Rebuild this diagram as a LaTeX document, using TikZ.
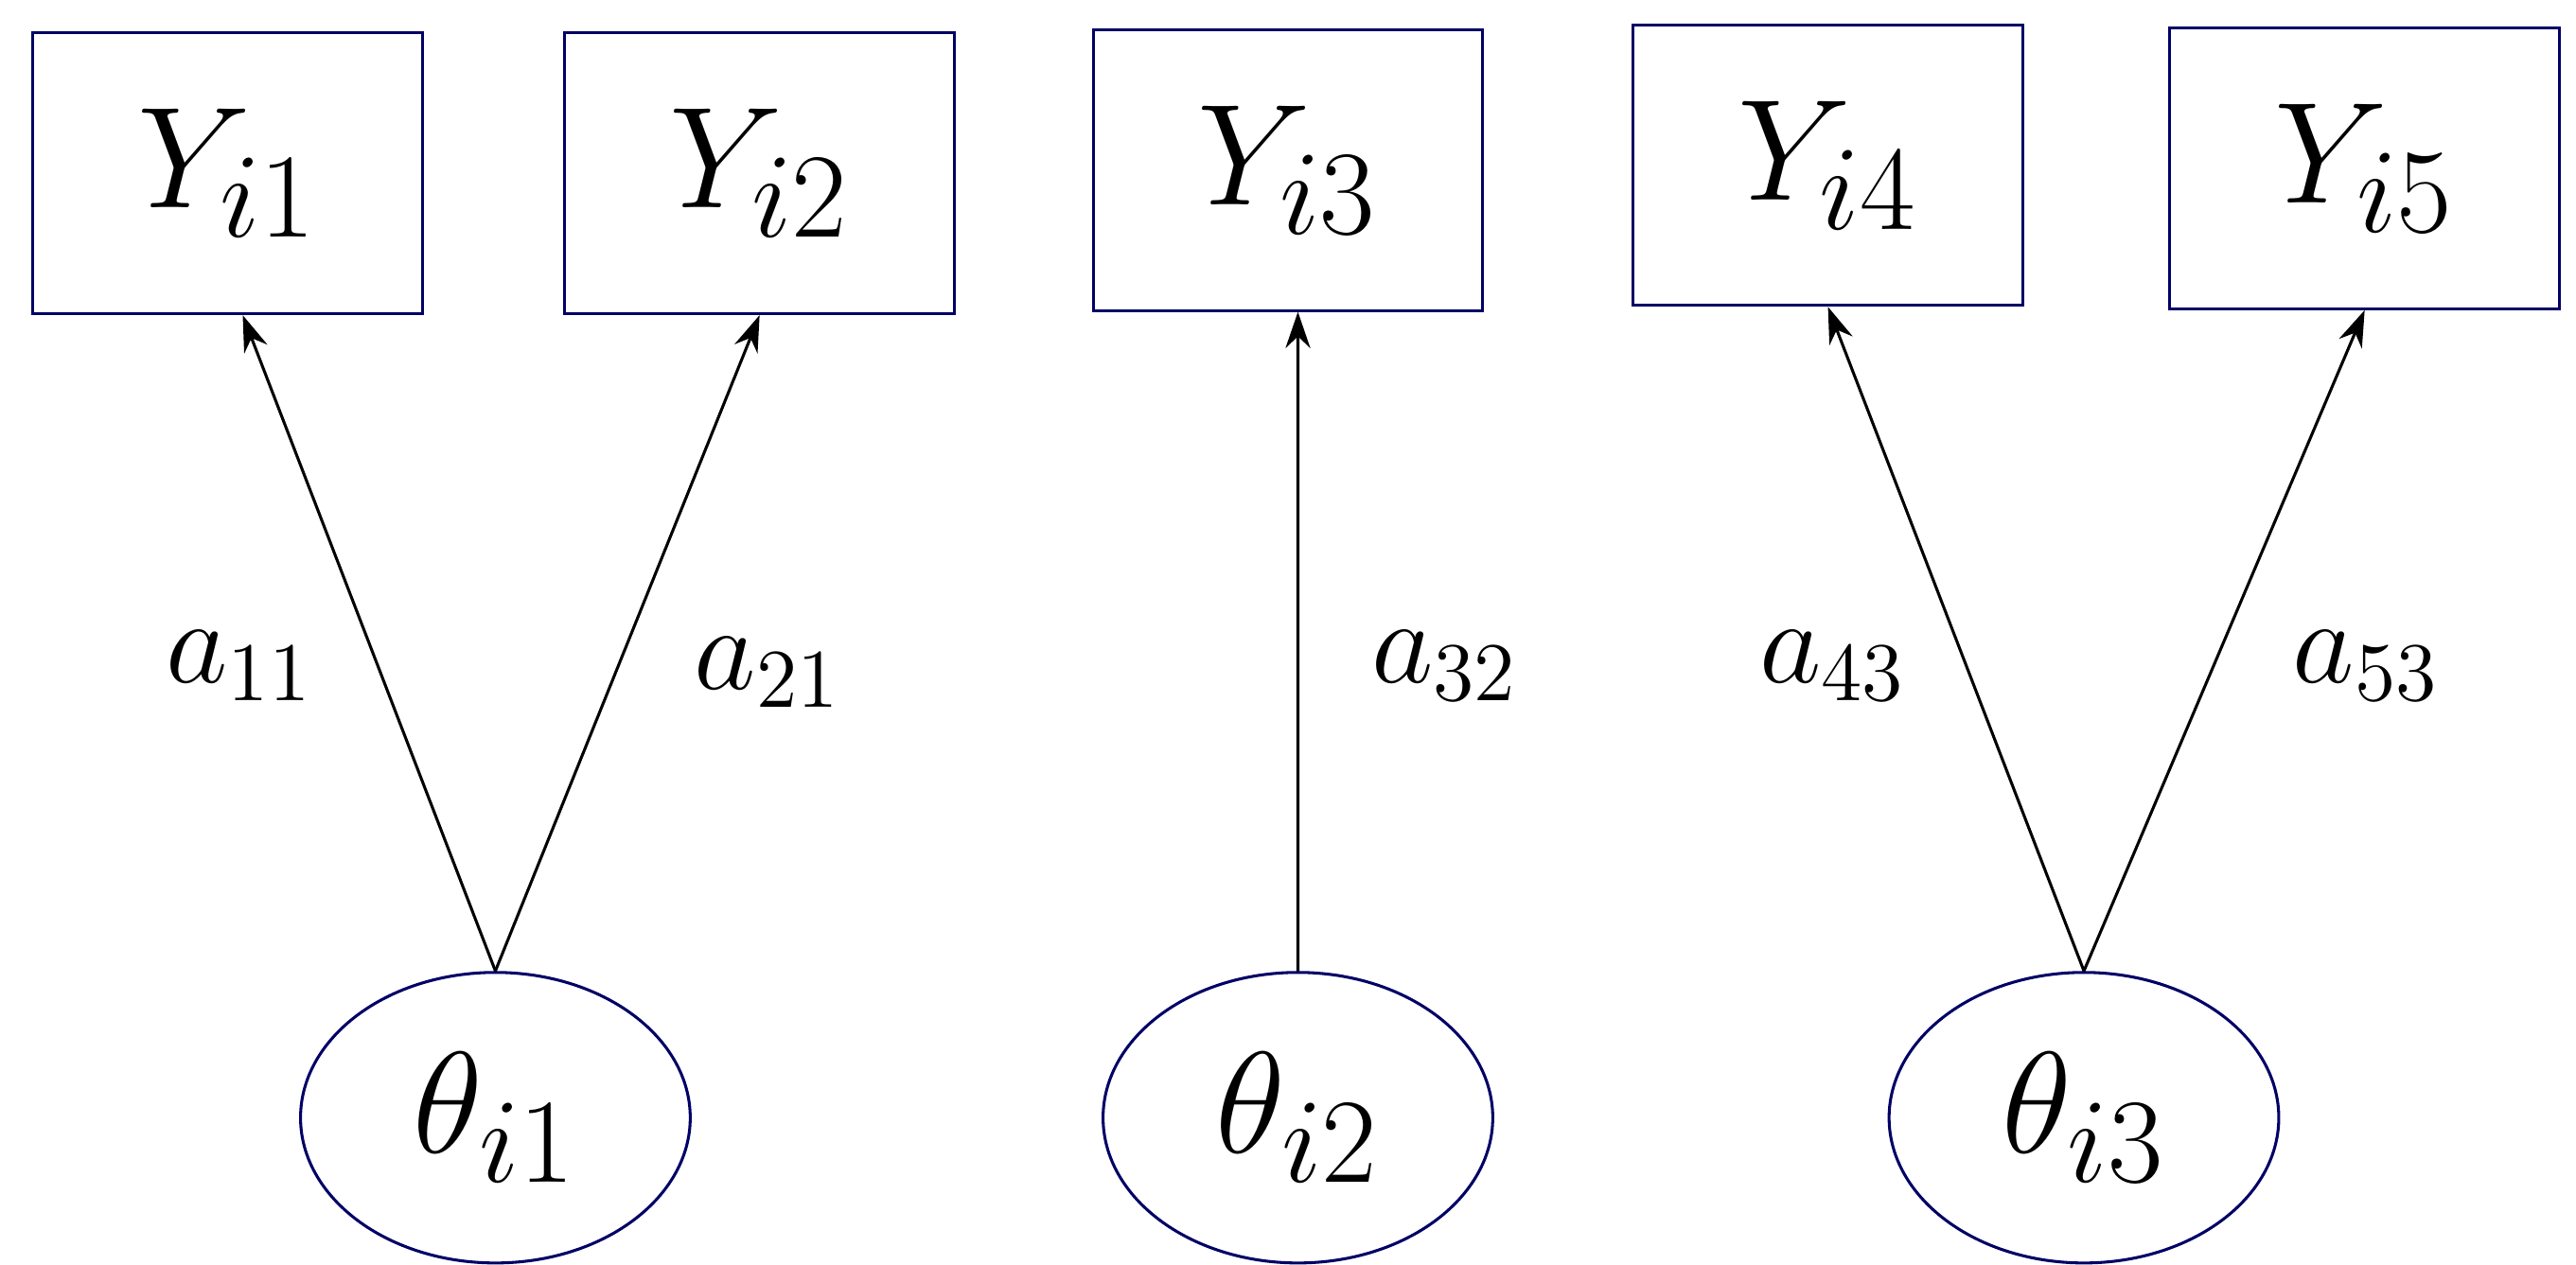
\documentclass[tikz,border=0pt]{standalone}
\usepackage{fontspec}
\usetikzlibrary{arrows.meta,shapes.geometric}
\begin{document}
\begin{tikzpicture}[x=0.1mm,y=-0.1mm,
 box/.style={draw=blue!40!black,line width=0.5pt,minimum width=23.6mm,minimum height=17mm,inner sep=0pt,font=\fontsize{29}{33}\selectfont},
 lat/.style={draw=blue!40!black,ellipse,line width=0.5pt,minimum width=23.6mm,minimum height=17.6mm,inner sep=0pt,font=\fontsize{29}{33}\selectfont},
 arr/.style={-{Stealth[length=2.2mm,width=1.5mm]},line width=0.5pt},
 lab/.style={font=\fontsize{22}{26}\selectfont}]
\useasboundingbox (0,0) rectangle (1560,766);
\node[box] (Y1) at (138,105) {$Y_{i1}$};
\node[box] (Y2) at (460,105) {$Y_{i2}$};
\node[box] (Y3) at (780,103) {$Y_{i3}$};
\node[box] (Y4) at (1107,100) {$Y_{i4}$};
\node[box] (Y5) at (1432,102) {$Y_{i5}$};
\node[lat] (T1) at (300,677) {$\theta_{i1}$};
\node[lat] (T2) at (786,677) {$\theta_{i2}$};
\node[lat] (T3) at (1262,677) {$\theta_{i3}$};
\draw[arr] (T1.north) -- ([xshift=0.9mm]Y1.south);
\draw[arr] (T1.north) -- (Y2.south);
\draw[arr] (T2.north) -- ([xshift=0.6mm]Y3.south);
\draw[arr] (T3.north) -- (Y4.south);
\draw[arr] (T3.north) -- (Y5.south);
\node[lab] (a1) at (145,403) {$a_{11}$};
\node[lab] (a2) at (465,407) {$a_{21}$};
\node[lab] (a3) at (875,403) {$a_{32}$};
\node[lab] (a4) at (1110,403) {$a_{43}$};
\node[lab] (a5) at (1433,403) {$a_{53}$};
\end{tikzpicture}
\end{document}
